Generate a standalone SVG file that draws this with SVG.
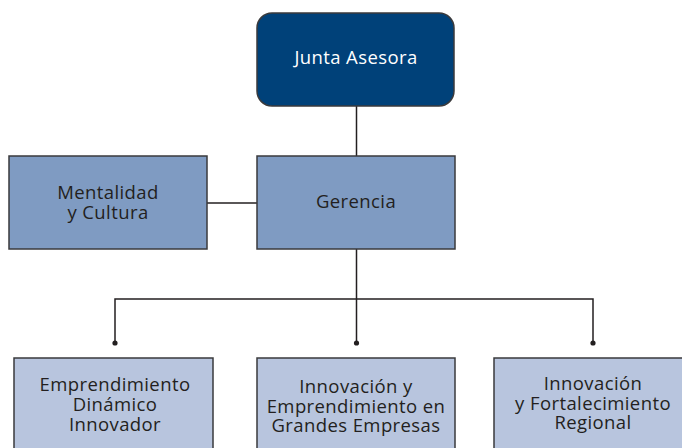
<svg xmlns="http://www.w3.org/2000/svg" width="682" height="448" viewBox="0 0 682 448">
<style>
.box{stroke:#3a3a3c;stroke-width:1.5}
.top{fill:#004179}
.mid{fill:#7f9bc2}
.low{fill:#b8c5de}
.t{font-family:"Open Sans","Liberation Sans",sans-serif;font-size:18.5px;letter-spacing:0.4px;text-anchor:middle;fill:#231f20}
.w{fill:#ffffff}
.ln{stroke:#231f20;stroke-width:1.5;fill:none}
</style>
<rect width="682" height="448" fill="#ffffff"/>
<g id="connectors">
<path class="ln" d="M356.5 106V156"/>
<path class="ln" d="M207 203H257"/>
<path class="ln" d="M356.5 249V343M115 343V299H593V343"/>
<circle cx="115" cy="343" r="2.6" fill="#231f20"/>
<circle cx="356.5" cy="343" r="2.6" fill="#231f20"/>
<circle cx="593" cy="343" r="2.6" fill="#231f20"/>
</g>
<g id="junta">
<rect class="box top" x="257" y="13" width="197" height="93" rx="15"/>
<text class="t w" x="356" y="64">Junta Asesora</text>
</g>
<g id="mentalidad">
<rect class="box mid" x="9" y="156" width="198" height="93"/>
<text class="t" x="108" y="198.5">Mentalidad</text>
<text class="t" x="108" y="218.5">y Cultura</text>
</g>
<g id="gerencia">
<rect class="box mid" x="257" y="156" width="198" height="93"/>
<text class="t" x="356" y="207.5">Gerencia</text>
</g>
<g id="emprendimiento">
<rect class="box low" x="14" y="358" width="199" height="95"/>
<text class="t" x="115" y="390.5">Emprendimiento</text>
<text class="t" x="115" y="410.5">Dinámico</text>
<text class="t" x="115" y="430.5">Innovador</text>
</g>
<g id="innovacion">
<rect class="box low" x="257" y="358" width="198" height="95"/>
<text class="t" x="356" y="393">Innovación y</text>
<text class="t" x="356" y="412.5">Emprendimiento en</text>
<text class="t" x="356" y="431.5">Grandes Empresas</text>
</g>
<g id="regional">
<rect class="box low" x="494" y="358" width="199" height="95"/>
<text class="t" x="593" y="390">Innovación</text>
<text class="t" x="593" y="409.5">y Fortalecimiento</text>
<text class="t" x="593" y="428.5">Regional</text>
</g>
</svg>
